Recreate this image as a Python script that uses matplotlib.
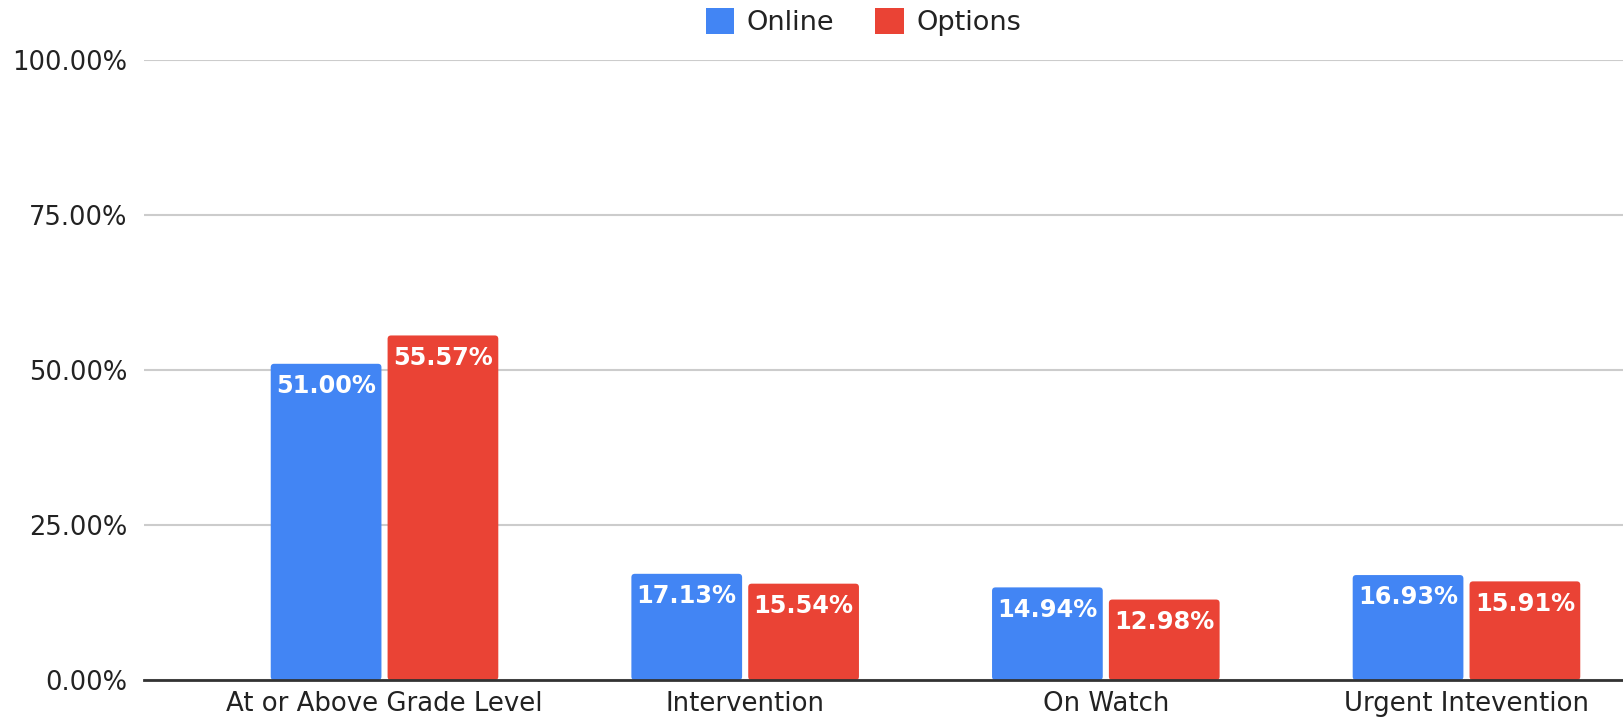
import numpy as np
import matplotlib
matplotlib.use("Agg")
import matplotlib.pyplot as plt
from matplotlib.patches import FancyBboxPatch

categories = ["At or Above Grade Level", "Intervention", "On Watch", "Urgent Intevention"]
online = [51.00, 17.13, 14.94, 16.93]
options = [55.57, 15.54, 12.98, 15.91]
series_names = ["Online", "Options"]
colors = ["#4285F4", "#EA4335"]
y_ticks = [0, 25, 50, 75, 100]

plt.rcParams["font.family"] = "DejaVu Sans"

fig = plt.figure(figsize=(16.23, 7.19), dpi=100)
ax = fig.add_axes([0.0887, 0.0542, 0.9113, 0.8624])

x = np.arange(len(categories))
width = 0.307
offset = 0.162
ax.set_xlim(-0.667, 3.434)
ax.set_ylim(0, 100)

# px per data unit, used to keep the corner rounding circular
bbox = ax.get_window_extent()
px_x = bbox.width / (3.434 + 0.667)
px_y = bbox.height / 100.0

legend_handles = []
for vals, off, col, name in [(online, -offset, colors[0], series_names[0]),
                             (options, offset, colors[1], series_names[1])]:
    bars = ax.bar(x + off, vals, width=width, color=col, zorder=3, label=name)
    for b, v in zip(bars, vals):
        b.set_visible(False)
        patch = FancyBboxPatch((b.get_x(), 0), b.get_width(), v,
                               boxstyle=f"round,pad=0,rounding_size={3.5 / px_x}",
                               mutation_aspect=px_x / px_y,
                               facecolor=col, edgecolor="none", zorder=3)
        ax.add_patch(patch)
        ax.annotate(f"{v:.2f}%", (b.get_x() + b.get_width() / 2, v),
                    xytext=(0, -16), textcoords="offset points",
                    ha="center", va="center", color="white",
                    fontsize=17.3, fontweight="bold", zorder=4)
    legend_handles.append(FancyBboxPatch((0, 0), 1, 1, boxstyle="round,pad=0,rounding_size=0.15",
                                         facecolor=col, edgecolor="none"))

ax.set_yticks(y_ticks)
ax.set_yticklabels([f"{t:.2f}%" for t in y_ticks])
ax.set_xticks(x)
ax.set_xticklabels(categories)
ax.tick_params(axis="y", length=0, pad=12, labelsize=18.5, labelcolor="#222222")
ax.tick_params(axis="x", length=0, pad=8, labelsize=18.7, labelcolor="#222222")

ax.grid(axis="y", color="#cccccc", linewidth=1.5, zorder=0)
for s in ["top", "right", "left"]:
    ax.spines[s].set_visible(False)
ax.spines["bottom"].set_color("#333333")
ax.spines["bottom"].set_linewidth(2)
ax.spines["bottom"].set_zorder(5)

fig.legend(legend_handles, series_names, loc="center", bbox_to_anchor=(0.532, 0.969),
           ncol=2, frameon=False, fontsize=19.5, handlelength=1.05, handleheight=1.05,
           columnspacing=1.5, handletextpad=0.46, labelcolor="#222222")

fig.savefig("out.png", dpi=100)
